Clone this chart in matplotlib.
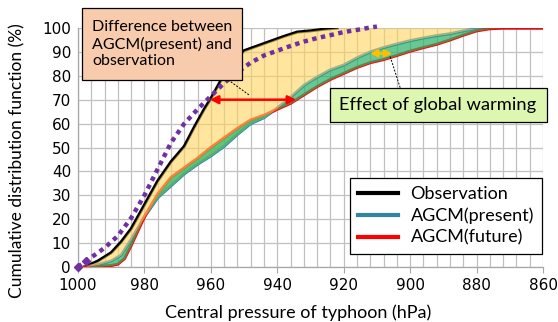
import matplotlib
matplotlib.use("Agg")
import matplotlib.pyplot as plt
from matplotlib.lines import Line2D
from matplotlib.patches import Rectangle
import numpy as np

plt.rcParams['font.family'] = ['Lato', 'DejaVu Sans']

# ---------------- data ----------------
obs_p = [998, 994, 990, 987, 984, 980, 976, 972, 968, 965, 962, 960, 957, 954, 950, 946, 942, 938, 934, 930, 926, 922]
obs_c = [0, 2.5, 6, 10.5, 16, 26, 36, 44, 50.5, 58.5, 66, 70.5, 78, 85, 90.5, 92.5, 94.5, 96.5, 98.3, 98.8, 99.5, 100]

fit_p = [1000, 997.5, 995, 992, 988, 984, 980, 976, 972, 968, 964, 960, 956, 952, 948, 944, 940, 936, 932, 928, 924, 920, 916, 912, 910]
fit_c = [0, 2.6, 5, 8, 13, 20.5, 30, 41, 52, 60, 66, 71.5, 77, 81.5, 85.5, 88.5, 90.5, 92.5, 94.3, 95.8, 97, 98.3, 99.2, 100.2, 100.6]

pres_p = [998, 994, 990, 987, 984, 980, 976, 972, 968, 964, 960, 956, 952, 948, 944, 940, 936, 932, 928, 924, 920,
          916, 912, 908, 904, 900, 896, 892, 888, 884, 880, 878, 860]
pres_c = [0, 1, 2.5, 5, 11.5, 21, 29, 34, 39, 43, 46.5, 50.5, 55.5, 60, 62.5, 66.5, 71, 76, 79.5, 82.5, 84.5,
          87.5, 90, 91.8, 93.3, 94.7, 95.8, 96.8, 97.6, 98.8, 99.8, 100, 100]

fut_p = [998, 994, 990, 988, 986, 984, 980, 976, 972, 968, 964, 960, 956, 952, 948, 944, 940, 936, 932, 928, 924, 920,
         916, 912, 908, 904, 900, 896, 892, 888, 884, 880, 876, 872, 860]
fut_c = [0, 0.3, 0.6, 1.2, 3.5, 9, 21, 30.5, 37.5, 41.5, 45.5, 50, 54, 58, 61.5, 63.5, 66, 68.5, 72, 75.5, 78.5, 81,
         83.5, 85.5, 86.8, 88.5, 90.3, 91.8, 93.2, 95, 97, 98.8, 99.7, 100, 100]

xticks = [1000, 980, 960, 940, 920, 900, 880, 860]
yticks = [0, 10, 20, 30, 40, 50, 60, 70, 80, 90, 100]

# ---------------- figure ----------------
W, H = 558, 322
fig = plt.figure(figsize=(W / 100, H / 100), dpi=100)
AX_L, AX_R, AX_T, AX_B = 78, 543, 28, 267
ax = fig.add_axes([AX_L / W, 1 - AX_B / H, (AX_R - AX_L) / W, (AX_B - AX_T) / H])
ax.set_xlim(1000, 860)
ax.set_ylim(0, 100)

ax.set_xticks(xticks)
ax.set_xticks(np.arange(1000, 859, -4), minor=True)
ax.set_yticks(yticks)
ax.grid(True, which='both', axis='x', color='#C0C0C0', lw=0.9)
ax.grid(True, which='major', axis='y', color='#C0C0C0', lw=0.9)
ax.set_axisbelow(True)
for s in ['top', 'right']:
    ax.spines[s].set_visible(False)
for s in ['left', 'bottom']:
    ax.spines[s].set_color('#A6A6A6')
    ax.spines[s].set_linewidth(0.9)
ax.tick_params(axis='x', which='major', length=4, color='#A6A6A6', labelsize=11, pad=4)
ax.tick_params(axis='x', which='minor', length=0)
ax.tick_params(axis='y', length=0, labelsize=11, pad=5)
for lab in ax.get_xticklabels() + ax.get_yticklabels():
    lab.set_family('DejaVu Sans')

fig.text(298 / W, 1 - 318 / H, 'Central pressure of typhoon (hPa)', fontsize=13,
         ha='center', va='baseline')
fig.text(17 / W, 1 - 161 / H, 'Cumulative distribution function (%)', fontsize=12.5,
         ha='center', va='center', rotation=90)

# lines (under translucent fills)
ax.plot(obs_p, obs_c, color='black', lw=2.2, zorder=3)
ax.plot(pres_p, pres_c, color='#1E7DC0', lw=2.2, zorder=3)
ax.plot(fut_p, fut_c, color='#FF0000', lw=2.2, zorder=3)

# fills
grid_p = np.arange(998, 859.5, -0.5)
obs_i = np.interp(grid_p, obs_p[::-1], obs_c[::-1], right=100)
pres_i = np.interp(grid_p, pres_p[::-1], pres_c[::-1])
fut_i = np.interp(grid_p, fut_p[::-1], fut_c[::-1])
ax.fill_between(grid_p, obs_i, pres_i, where=obs_i >= pres_i, color='#FFD45E', alpha=0.6, lw=0, zorder=4)
ax.fill_between(grid_p, pres_i, fut_i, color='#2DB36A', alpha=0.72, lw=0, zorder=4)

# fitted / dotted purple curve
ax.plot(fit_p, fit_c, color='#7030A0', lw=3.2, ls=(0, (1, 1)), dash_capstyle='butt',
        marker='D', markersize=4, markevery=[0, 1], zorder=6, clip_on=False)

# arrows
ax.annotate('', xy=(960.3, 70), xytext=(934.3, 70),
            arrowprops=dict(arrowstyle='<|-|>', color='#FF0000', lw=1.8, mutation_scale=12,
                            shrinkA=0, shrinkB=0), zorder=7)
ax.annotate('', xy=(912.1, 89.4), xytext=(905.4, 89.4),
            arrowprops=dict(arrowstyle='<|-|>', color='#FFC000', lw=1.8, mutation_scale=10,
                            shrinkA=0, shrinkB=0), zorder=7)

# leader lines
ax.plot([956.5, 948.5], [80, 72], color='black', lw=0.7, ls=(0, (2, 1.5)), zorder=7, clip_on=False)
ax.plot([906, 903], [88, 75], color='black', lw=0.7, ls=(0, (2, 1.5)), zorder=7, clip_on=False)

# annotation boxes (figure pixel coords)
def px_rect(x0, y0, x1, y1, fc):
    r = Rectangle((x0 / W, 1 - y1 / H), (x1 - x0) / W, (y1 - y0) / H, transform=fig.transFigure,
                  facecolor=fc, edgecolor='black', lw=0.9, zorder=10)
    fig.patches.append(r)

px_rect(82, 8, 242, 80, '#F8CBAD')
fig.text(92 / W, 1 - 44 / H, 'Difference between\nAGCM(present) and\nobservation', fontsize=11.5,
         va='center', ha='left', linespacing=1.22, zorder=11)

px_rect(330, 88, 547, 122, '#DDF6B0')
fig.text(438 / W, 1 - 105 / H, 'Effect of global warming', fontsize=13.2,
         va='center', ha='center', zorder=11)

# legend
handles = [Line2D([], [], color='black', lw=3),
           Line2D([], [], color='#31859C', lw=3),
           Line2D([], [], color='#FF0000', lw=3)]
leg = ax.legend(handles, ['Observation', 'AGCM(present)', 'AGCM(future)'],
                loc='lower right', bbox_to_anchor=(542 / W, 1 - 254 / H), bbox_transform=fig.transFigure,
                fontsize=13, frameon=True, fancybox=False, borderaxespad=0, handlelength=2.2,
                handletextpad=0.7, borderpad=0.45, labelspacing=0.3, framealpha=1)
leg.get_frame().set_edgecolor('black')
leg.get_frame().set_linewidth(0.9)
leg.set_zorder(9)

fig.savefig('out.png', dpi=100)
